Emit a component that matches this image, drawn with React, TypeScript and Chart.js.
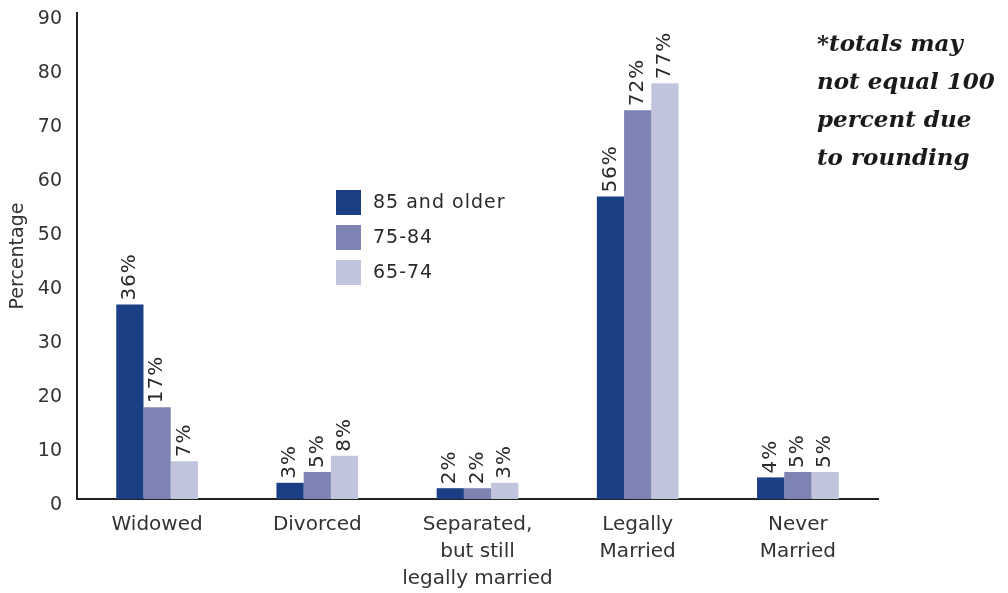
import React, { useEffect, useRef } from "react";
import { Chart, registerables } from "chart.js";

Chart.register(...registerables);

const categories: (string | string[])[] = [
  "Widowed",
  "Divorced",
  ["Separated,", "but still", "legally married"],
  ["Legally", "Married"],
  ["Never", "Married"],
];
const seriesLabels = ["85 and older", "75-84", "65-74"];
const older85 = [36, 3, 2, 56, 4];
const age75to84 = [17, 5, 2, 72, 5];
const age65to74 = [7, 8, 3, 77, 5];
const seriesColors = ["#1b3f84", "#7d84b4", "#c1c4dd"];
const noteLines = ["*totals may", "not equal 100", "percent due", "to rounding"];

const SANS = "'DejaVu Sans', 'Noto Sans', sans-serif";

const valueLabelPlugin = {
  id: "valueLabels",
  afterDatasetsDraw(chart: any) {
    const ctx = chart.ctx;
    ctx.save();
    ctx.fillStyle = "#2a2a2a";
    ctx.font = `20px ${SANS}`;
    (ctx as any).letterSpacing = "1px";
    ctx.textAlign = "left";
    ctx.textBaseline = "middle";
    chart.data.datasets.forEach((ds: any, di: number) => {
      const meta = chart.getDatasetMeta(di);
      meta.data.forEach((bar: any, i: number) => {
        ctx.save();
        ctx.translate(bar.x, bar.y - 4);
        ctx.rotate(-Math.PI / 2);
        ctx.fillText(ds.data[i] + "%", 0, 0);
        ctx.restore();
      });
    });
    ctx.restore();
  },
};

const legendPlugin = {
  id: "customLegend",
  afterDraw(chart: any) {
    const ctx = chart.ctx;
    ctx.save();
    const x0 = 336;
    const y0 = 190;
    const step = 35;
    chart.data.datasets.forEach((ds: any, i: number) => {
      const y = y0 + i * step;
      ctx.fillStyle = ds.backgroundColor;
      ctx.fillRect(x0, y, 25, 25);
      ctx.fillStyle = "#2a2a2a";
      ctx.font = `19px ${SANS}`;
      (ctx as any).letterSpacing = "1px";
      ctx.textAlign = "left";
      ctx.textBaseline = "middle";
      ctx.fillText(ds.label, x0 + 37, y + 13);
    });
    ctx.restore();
  },
};

const notePlugin = {
  id: "note",
  afterDraw(chart: any) {
    const ctx = chart.ctx;
    ctx.save();
    ctx.fillStyle = "#1a1a1a";
    ctx.font = `italic bold 23px 'DejaVu Serif', 'Liberation Serif', serif`;
    ctx.textAlign = "left";
    ctx.textBaseline = "middle";
    noteLines.forEach((line, i) => {
      ctx.fillText(line, 817, 45 + i * 38);
    });
    ctx.restore();
  },
};

export default function App() {
  const ref = useRef<HTMLCanvasElement | null>(null);
  useEffect(() => {
    document.body.style.margin = "0";
    const canvas = ref.current!;
    const chart = new Chart(canvas, {
      type: "bar",
      data: {
        labels: categories,
        datasets: [
          { label: seriesLabels[0], data: older85, backgroundColor: seriesColors[0] },
          { label: seriesLabels[1], data: age75to84, backgroundColor: seriesColors[1] },
          { label: seriesLabels[2], data: age65to74, backgroundColor: seriesColors[2] },
        ],
      },
      options: {
        animation: false,
        responsive: false,
        devicePixelRatio: 1,
        layout: { padding: { top: 13, right: 130, left: 0, bottom: 0 } },
        datasets: {
          bar: { barPercentage: 1, categoryPercentage: 0.51 },
        },
        plugins: {
          legend: { display: false },
          tooltip: { enabled: false },
        },
        scales: {
          x: {
            grid: { display: false, drawTicks: false },
            border: { display: true, color: "#222", width: 2 },
            ticks: {
              color: "#333",
              font: { family: SANS, size: 20, lineHeight: 1.35 },
              padding: 12,
              maxRotation: 0,
              autoSkip: false,
            },
            afterFit(scale: any) {
              scale.height = 94;
              scale.paddingLeft = 0;
              scale.paddingRight = 0;
            },
          },
          y: {
            min: 0,
            max: 90,
            grid: { display: false, drawTicks: false },
            border: { display: true, color: "#222", width: 2 },
            ticks: {
              stepSize: 10,
              color: "#333",
              font: { family: SANS, size: 19 },
              padding: 15,
              labelOffset: 6,
            },
            title: {
              display: true,
              text: "Percentage",
              color: "#333",
              font: { family: SANS, size: 19 },
              padding: { top: 7, bottom: 0 },
            },
            afterFit(scale: any) {
              scale.width = 77;
              scale.paddingTop = 0;
              scale.paddingBottom = 0;
            },
          },
        },
      },
      plugins: [valueLabelPlugin, legendPlugin, notePlugin],
    });
    return () => chart.destroy();
  }, []);
  return <canvas ref={ref} width={1008} height={593} style={{ display: "block" }} />;
}
